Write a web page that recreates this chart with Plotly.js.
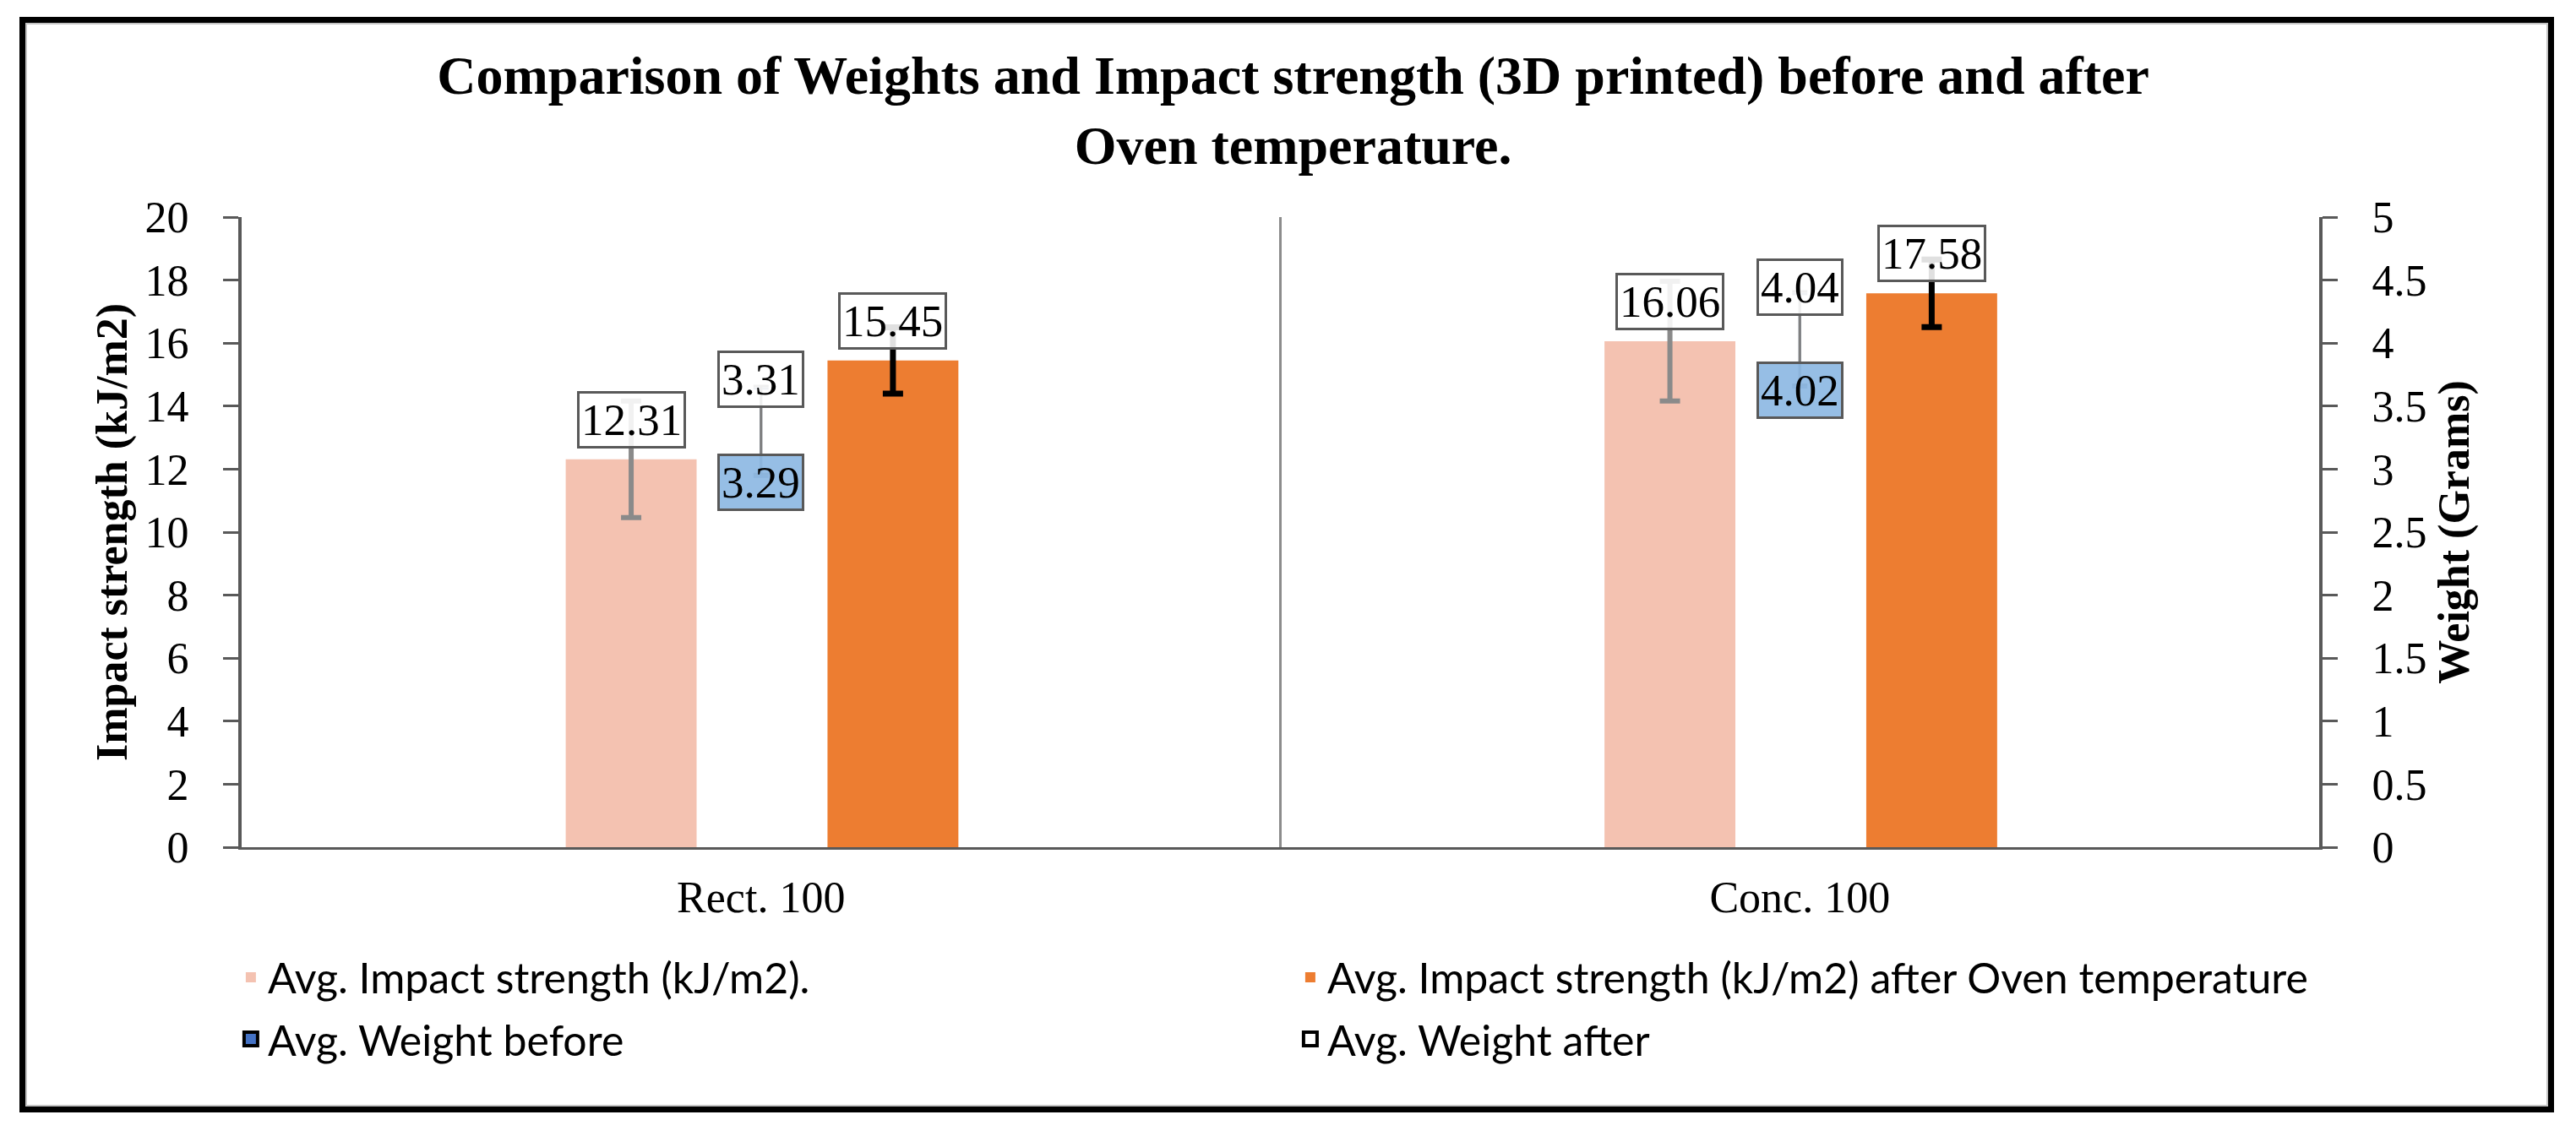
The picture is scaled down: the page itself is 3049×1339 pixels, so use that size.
<!DOCTYPE html>
<html>
<head>
<meta charset="utf-8">
<script src="https://cdn.plot.ly/plotly-3.0.1.min.js"></script>
<style>
html,body{margin:0;padding:0;background:#fff;}
#chart{width:3049px;height:1339px;}
#frame{position:absolute;left:23px;top:20px;width:2986px;height:1283px;border:7px solid #000;box-shadow:inset 0 0 0 2px #c4c4c4;pointer-events:none;}
</style>
</head>
<body>
<div id="chart"></div>
<div id="frame"></div>
<script>
// ---- data ----
const categories = ['Rect. 100', 'Conc. 100'];
const impactBefore = [12.31, 16.06];
const impactBeforeErr = [1.85, 1.9];
const impactAfter = [15.45, 17.58];
const impactAfterErr = [1.05, 1.07];
const weightBefore = [3.29, 4.02];
const weightBeforeErr = [0.35, 0.37];
const weightAfter = [3.31, 4.04];
const weightAfterErr = [0.35, 0.37];
const seriesNames = [
  'Avg. Impact strength (kJ/m2).',
  'Avg. Impact strength (kJ/m2) after Oven temperature',
  'Avg. Weight before',
  'Avg. Weight after'
];

// ---- style ----
const SERIF = '"Times New Roman", "Liberation Serif", serif';
const SANS = 'Lato, "Noto Sans", sans-serif';
const AXIS = '#595959';
const BAR_W = 0.126;
const PINK_OFF = -0.188, ORANGE_OFF = 0.064;

const traces = [
  {
    type: 'bar', x: categories, y: impactBefore, name: seriesNames[0],
    width: BAR_W, offset: PINK_OFF,
    marker: {color: '#F4C2B1'},
    error_y: {type: 'data', array: impactBeforeErr, color: '#8a8a8a', thickness: 6, width: 12},
    legend: 'legend', hoverinfo: 'skip'
  },
  {
    type: 'bar', x: categories, y: impactAfter, name: seriesNames[1],
    width: BAR_W, offset: ORANGE_OFF,
    marker: {color: '#ED7D31'},
    error_y: {type: 'data', array: impactAfterErr, color: '#000000', thickness: 7, width: 12},
    legend: 'legend', hoverinfo: 'skip'
  },
  {
    type: 'scatter', mode: 'markers', x: categories, y: weightBefore, yaxis: 'y2', name: seriesNames[2],
    marker: {symbol: 'square', size: 16, color: '#4472C4', line: {color: '#000', width: 4}},
    selectedpoints: [], unselected: {marker: {opacity: 0}},
    error_y: {type: 'data', array: weightBeforeErr, color: '#7f8fa6', thickness: 3, width: 9},
    legend: 'legend2', hoverinfo: 'skip', cliponaxis: false
  },
  {
    type: 'scatter', mode: 'markers', x: categories, y: weightAfter, yaxis: 'y2', name: seriesNames[3],
    marker: {symbol: 'square', size: 16, color: '#ffffff', line: {color: '#000', width: 4}},
    selectedpoints: [], unselected: {marker: {opacity: 0}},
    error_y: {type: 'data', array: weightAfterErr, color: '#7f7f7f', thickness: 3, width: 9},
    legend: 'legend2', hoverinfo: 'skip', cliponaxis: false
  }
];

// data labels, positioned from the data
const pinkCenter = PINK_OFF + BAR_W / 2;
const orangeCenter = ORANGE_OFF + BAR_W / 2;
function label(x, v, yref, yanchor, yshift, bg) {
  return {
    x: x, y: v, xref: 'x', yref: yref, text: v.toFixed(2), showarrow: false,
    xanchor: 'center', yanchor: yanchor, yshift: yshift,
    bgcolor: bg, bordercolor: '#595959', borderwidth: 3, borderpad: 2,
    font: {family: SERIF, size: 53, color: '#000'}
  };
}
const annotations = [];
categories.forEach((c, i) => {
  annotations.push(label(i + pinkCenter, impactBefore[i], 'y', 'bottom', 13, 'rgba(255,255,255,0.88)'));
  annotations.push(label(i + orangeCenter, impactAfter[i], 'y', 'bottom', 13, 'rgba(255,255,255,0.88)'));
  annotations.push(label(i, weightAfter[i], 'y2', 'bottom', 26, 'rgba(255,255,255,0.88)'));
  annotations.push(label(i, weightBefore[i], 'y2', 'top', -25, 'rgba(141,185,227,0.92)'));
});

const tickFont = {family: SERIF, size: 52, color: '#000'};
const legendBase = {
  orientation: 'h', xanchor: 'left', yanchor: 'middle', x: -0.0037,
  entrywidth: 1209, entrywidthmode: 'pixels',
  font: {family: SANS, size: 50, color: '#000'}, bgcolor: 'rgba(0,0,0,0)', traceorder: 'normal'
};

const layout = {
  width: 3049, height: 1339,
  margin: {l: 286, r: 304, t: 257, b: 336, pad: 0},
  paper_bgcolor: '#fff', plot_bgcolor: '#fff',
  barmode: 'overlay',
  showlegend: true,
  title: {
    text: 'Comparison of Weights and Impact strength (3D printed) before and after<br>Oven temperature.',
    font: {family: SERIF, size: 64, color: '#000', weight: 'bold'},
    xref: 'container', x: 0.502, xanchor: 'center',
    yref: 'container', y: 1 - 111 / 1339, yanchor: 'top'
  },
  xaxis: {
    type: 'category', range: [-0.5, 1.5], fixedrange: true,
    showline: true, linecolor: AXIS, linewidth: 3,
    ticks: '', tickson: 'boundaries',
    showgrid: true, gridcolor: '#8c8c8c', gridwidth: 3, zeroline: false,
    tickfont: tickFont, ticklabelstandoff: 12
  },
  yaxis: {
    range: [0, 20], tick0: 0, dtick: 2, fixedrange: true,
    showgrid: false, zeroline: false,
    showline: true, linecolor: AXIS, linewidth: 4,
    ticks: 'outside', ticklen: 18, tickwidth: 3, tickcolor: AXIS,
    tickfont: tickFont, ticklabelstandoff: 30,
    title: {text: 'Impact strength (kJ/m2)', font: {family: SERIF, size: 52, color: '#000', weight: 'bold'}, standoff: 5}
  },
  yaxis2: {
    overlaying: 'y', side: 'right', anchor: 'x',
    range: [0, 5], tick0: 0, dtick: 0.5, fixedrange: true,
    showgrid: false, zeroline: false,
    showline: true, linecolor: AXIS, linewidth: 4,
    ticks: 'outside', ticklen: 18, tickwidth: 3, tickcolor: AXIS,
    tickfont: tickFont, ticklabelstandoff: 30,
    title: {text: 'Weight (Grams)', font: {family: SERIF, size: 52, color: '#000', weight: 'bold'}, standoff: 15}
  },
  legend: Object.assign({}, legendBase, {y: -0.2064}),
  legend2: Object.assign({}, legendBase, {y: -0.3043}),
  annotations: annotations
};

Plotly.newPlot('chart', traces, layout, {displayModeBar: false, staticPlot: true});
</script>
</body>
</html>
